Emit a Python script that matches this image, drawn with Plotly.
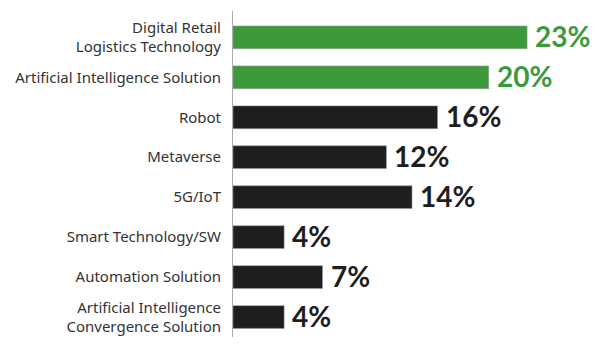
import plotly.graph_objects as go

categories = [
    "Digital Retail<br>Logistics Technology",
    "Artificial Intelligence Solution",
    "Robot",
    "Metaverse",
    "5G/IoT",
    "Smart Technology/SW",
    "Automation Solution",
    "Artificial Intelligence<br>Convergence Solution",
]
values = [23, 20, 16, 12, 14, 4, 7, 4]
highlight = [True, True, False, False, False, False, False, False]

GREEN = "#3d9a3b"
DARK = "#1e1e1e"
colors = [GREEN if h else DARK for h in highlight]
ypos = list(range(len(categories)))

fig = go.Figure(
    go.Bar(
        x=values,
        y=ypos,
        orientation="h",
        width=0.57,
        marker=dict(color=colors, line=dict(color="#9a9a9a", width=0.6)),
        hoverinfo="skip",
    )
)

for v, y, c in zip(values, ypos, colors):
    fig.add_annotation(
        x=v, y=y, xref="x", yref="y",
        text=f"{v}%",
        showarrow=False,
        xanchor="left",
        yanchor="middle",
        xshift=6,
        yshift=1,
        font=dict(family="Lato", size=28, color=c, weight="bold"),
    )

# page body has an 8px default margin, so the figure is 8px smaller and shifted
fig.update_layout(
    width=592,
    height=352,
    margin=dict(l=225, r=9, t=3, b=23, autoexpand=False),
    paper_bgcolor="white",
    plot_bgcolor="white",
    showlegend=False,
    xaxis=dict(range=[0, 28], visible=False, fixedrange=True, automargin=False),
    yaxis=dict(
        range=[7.5, -0.66],
        tickmode="array",
        tickvals=ypos,
        ticktext=categories,
        tickfont=dict(family="Noto Sans", size=15, color="#333333"),
        showline=True,
        linecolor="#aaaaaa",
        linewidth=1,
        showgrid=False,
        zeroline=False,
        ticks="",
        automargin=False,
        ticklabelstandoff=8,
    ),
)

fig.write_html("out.html")
